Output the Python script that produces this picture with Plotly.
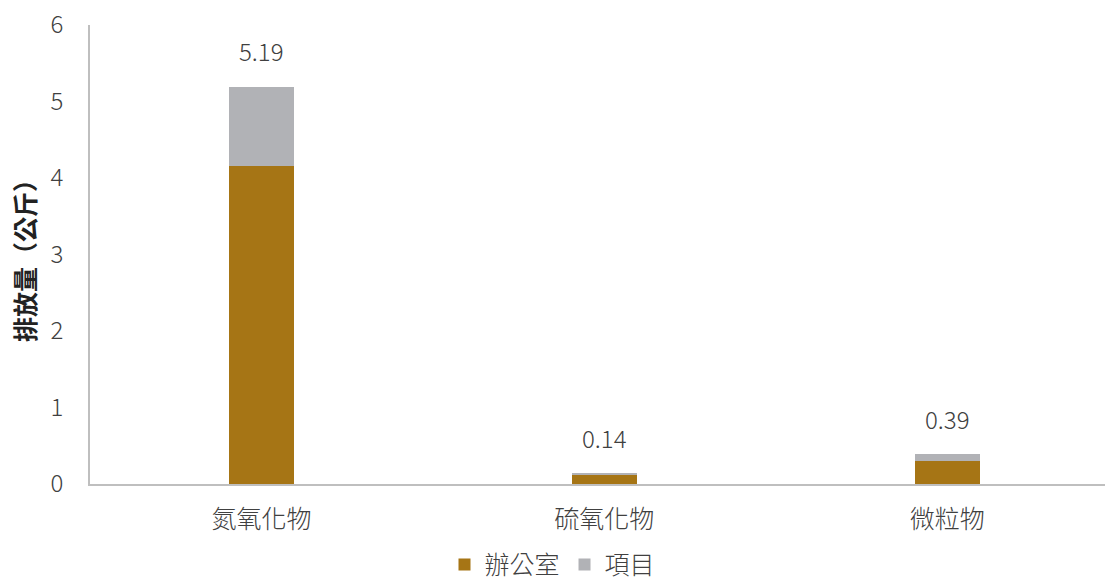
import plotly.graph_objects as go

categories = ["氮氧化物", "硫氧化物", "微粒物"]
office = [4.16, 0.12, 0.30]
project = [1.03, 0.02, 0.09]
totals = [5.19, 0.14, 0.39]
total_labels = ["5.19", "0.14", "0.39"]
y_ticks = [0, 1, 2, 3, 4, 5, 6]

FONT = "Noto Sans CJK TC, Noto Sans, sans-serif"
TXT = "#404040"

fig = go.Figure()
fig.add_trace(go.Bar(x=categories, y=office, name="辦公室", marker_color="#A67515",
                     width=0.19, marker_line_width=0))
fig.add_trace(go.Bar(x=categories, y=project, name="項目", marker_color="#B1B2B6",
                     width=0.19, marker_line_width=0))

for c, t, lab in zip(categories, totals, total_labels):
    fig.add_annotation(x=c, y=t, text=lab, showarrow=False, yshift=36,
                       font=dict(family=FONT, size=24, color=TXT, weight=300))

fig.update_layout(
    barmode="stack",
    width=1105, height=585,
    margin=dict(l=90, r=0, t=25, b=101, autoexpand=False),
    plot_bgcolor="white", paper_bgcolor="white",
    font=dict(family=FONT, size=24, color=TXT, weight=300),
    showlegend=True,
    legend=dict(orientation="h", x=0.5, xanchor="center", xref="container", yref="paper",
                y=-0.176, yanchor="middle",
                font=dict(family=FONT, size=25, color=TXT, weight=300), traceorder="normal",
                itemwidth=30, tracegroupgap=0),
    xaxis=dict(range=[-0.5, 2.46], showline=True, linecolor="#BFBFBF", linewidth=1.5,
               ticks="", tickfont=dict(size=25, weight=300), showgrid=False, zeroline=False,
               ticklabelstandoff=12),
    yaxis=dict(range=[0, 6], tickvals=y_ticks, showline=True, linecolor="#BFBFBF",
               linewidth=1.5, showgrid=False, zeroline=False, ticks="",
               ticklabelstandoff=20,
               title=dict(text="<b>排放量（公斤）</b>",
                          font=dict(size=25, family="Noto Sans CJK TC", color="#222222"),
                          standoff=8),
               tickfont=dict(size=24, weight=300)),
)

fig.write_html("out.html")
